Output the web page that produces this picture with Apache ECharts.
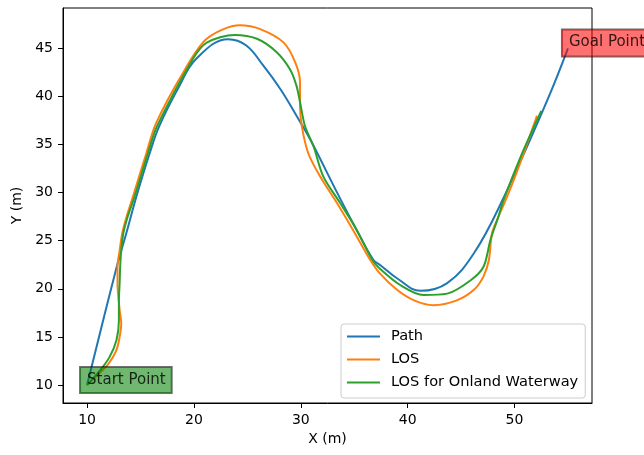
<!DOCTYPE html>
<html>
<head>
<meta charset="utf-8">
<script src="https://cdn.jsdelivr.net/npm/echarts@6/dist/echarts.min.js"></script>
<style>
  html, body { margin: 0; padding: 0; background: #fff; }
  #trackChart { width: 644px; height: 455px; }
</style>
</head>
<body>
<div id="trackChart"></div>
<script>
// reference path (blue)
var pathX = [10, 12.74, 13.68, 14.62, 15.86, 16.75, 18.6, 20.2, 23.2, 24.9, 26.5, 28.1, 29.6, 30.9, 33.4, 34.9, 36.8, 37.45, 39.0, 41.2, 43.7, 46.2, 48.9, 53.1, 55];
var pathY = [10, 22.13, 25.8, 29.6, 34.1, 36.9, 41.0, 43.9, 45.95, 45.3, 43.2, 40.75, 38.0, 35.5, 30.0, 26.8, 23.0, 22.45, 21.1, 19.8, 20.6, 23.7, 29.3, 39.7, 45];

// plain LOS track (orange)
var losX = [10, 11.2, 12.0, 12.7, 13.0, 13.2, 13.05, 12.85, 12.85, 13.05, 13.3, 13.7, 14.3, 15.55, 16.45, 19.0, 21.2, 24.3, 26.2, 28.4, 29.5, 29.93, 29.93, 30.1, 30.7, 31.8, 33.4, 34.9, 36.5, 37.4, 39.0, 40.6, 42.4, 44.6, 46.2, 47.1, 47.6, 47.9, 48.5, 49.2, 50.3, 52.1];
var losY = [10, 11.3, 12.2, 13.5, 14.7, 16.4, 17.8, 20.6, 22.3, 24.0, 25.8, 27.5, 29.6, 34.1, 37.2, 42.5, 46.0, 47.4, 47.0, 45.6, 43.5, 41.45, 39.0, 36.9, 34.1, 31.7, 28.9, 26.1, 23.0, 21.6, 19.9, 18.8, 18.3, 18.8, 19.9, 21.3, 23.0, 25.8, 27.5, 29.3, 32.4, 38.0];

// LOS for onland waterway (green)
var onlandX = [10, 11.2, 12.1, 12.75, 12.98, 12.98, 13.05, 13.1, 13.2, 13.4, 13.8, 14.45, 15.7, 16.55, 19.9, 21.2, 23.8, 25.9, 27.75, 29.0, 29.6, 29.93, 30.4, 31.2, 32.1, 33.7, 35.25, 36.7, 37.4, 39.3, 41.5, 43.7, 45.9, 47.1, 47.75, 48.4, 49.0, 50.6, 52.5];
var onlandY = [10, 11.5, 12.9, 14.65, 16.7, 18.8, 20.6, 22.3, 24.0, 25.8, 27.5, 29.6, 34.1, 36.9, 43.9, 45.6, 46.4, 46.0, 44.6, 42.8, 41.1, 39.4, 36.9, 34.8, 31.7, 28.9, 26.1, 23.0, 22.1, 20.4, 19.35, 19.5, 20.9, 22.3, 25.1, 27.2, 29.3, 33.8, 38.5];

var startPoint = [10, 10];
var goalPoint = [55, 45];

var xTicks = [10, 20, 30, 40, 50];
var yTicks = [10, 15, 20, 25, 30, 35, 40, 45];

function zipXY(xs, ys) {
  return xs.map(function (x, i) { return [x, ys[i]]; });
}

var font = 'DejaVu Sans';

var trackChart = echarts.init(document.getElementById('trackChart'), null, { renderer: 'canvas' });
var option = {
  animation: false,
  backgroundColor: '#fff',
  grid: {
    left: 63,
    top: 8,
    right: 52,
    bottom: 52,
    show: true,
    borderColor: '#000',
    borderWidth: 1,
    backgroundColor: 'transparent'
  },
  legend: {
    orient: 'vertical',
    left: 341,
    top: 324,
    padding: [5, 7, 8, 5],
    itemWidth: 33,
    itemHeight: 14,
    itemGap: 8,
    itemStyle: { opacity: 0 },
    backgroundColor: 'rgba(255,255,255,0.8)',
    borderColor: '#cccccc',
    borderWidth: 1,
    borderRadius: 3,
    textStyle: { fontFamily: font, fontSize: 14.6, color: '#000', padding: [0, 0, 0, 6] },
    data: ['Path', 'LOS', 'LOS for Onland Waterway']
  },
  xAxis: {
    type: 'value',
    min: 7.75,
    max: 57.25,
    name: 'X (m)',
    nameLocation: 'middle',
    nameGap: 28,
    nameTextStyle: { fontFamily: font, fontSize: 14, color: '#000' },
    axisLine: { show: true, onZero: false, lineStyle: { color: '#000', width: 1 } },
    axisTick: { show: true, length: 5, lineStyle: { color: '#000' }, customValues: xTicks },
    axisLabel: { fontFamily: font, fontSize: 14, color: '#000', margin: 10, customValues: xTicks },
    splitLine: { show: false }
  },
  yAxis: {
    type: 'value',
    min: 8.13,
    max: 49.2,
    name: 'Y (m)',
    nameLocation: 'middle',
    nameGap: 37,
    nameTextStyle: { fontFamily: font, fontSize: 14, color: '#000' },
    axisLine: { show: true, onZero: false, lineStyle: { color: '#000', width: 1 } },
    axisTick: { show: true, length: 5, lineStyle: { color: '#000' }, customValues: yTicks },
    axisLabel: { fontFamily: font, fontSize: 14, color: '#000', margin: 10, customValues: yTicks },
    splitLine: { show: false }
  },
  series: [
    {
      name: 'Path',
      type: 'line',
      data: zipXY(pathX, pathY),
      symbol: 'none',
      smooth: 0.4,
      lineStyle: { color: '#1f77b4', width: 2 },
      itemStyle: { color: '#1f77b4' },
      z: 2
    },
    {
      name: 'LOS',
      type: 'line',
      data: zipXY(losX, losY),
      symbol: 'none',
      smooth: 0.3,
      lineStyle: { color: '#ff7f0e', width: 2 },
      itemStyle: { color: '#ff7f0e' },
      z: 3
    },
    {
      name: 'LOS for Onland Waterway',
      type: 'line',
      data: zipXY(onlandX, onlandY),
      symbol: 'none',
      smooth: 0.3,
      lineStyle: { color: '#2ca02c', width: 2 },
      itemStyle: { color: '#2ca02c' },
      z: 4
    },
    {
      type: 'scatter',
      data: [startPoint],
      symbolSize: 0,
      silent: true,
      z: 10,
      label: {
        show: true,
        formatter: 'Start Point',
        position: [-7, -18],
        fontFamily: font,
        fontSize: 15,
        lineHeight: 16,
        color: '#000',
        padding: [5, 6, 5, 7],
        backgroundColor: 'rgba(0,128,0,0.7)',
        borderColor: 'rgba(0,0,0,0.7)',
        borderWidth: 1
      }
    },
    {
      type: 'scatter',
      data: [goalPoint],
      symbolSize: 0,
      silent: true,
      z: 10,
      label: {
        show: true,
        formatter: 'Goal Point',
        position: [-6, -19],
        fontFamily: font,
        fontSize: 15,
        lineHeight: 16,
        color: '#000',
        padding: [5, 6, 6, 7],
        backgroundColor: 'rgba(255,0,0,0.7)',
        borderColor: 'rgba(0,0,0,0.7)',
        borderWidth: 1
      }
    }
  ]
};
trackChart.setOption(option);
</script>
</body>
</html>
